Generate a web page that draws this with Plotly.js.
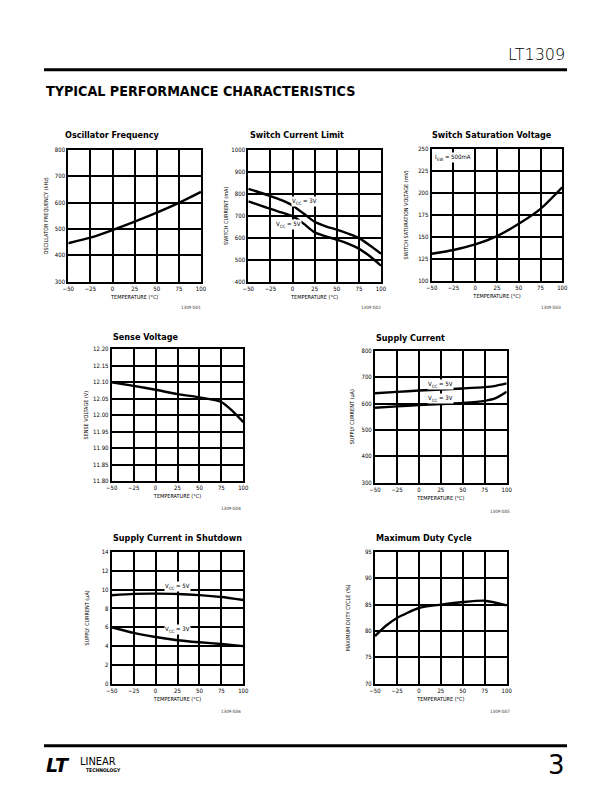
<!DOCTYPE html>
<html>
<head>
<meta charset="utf-8">
<script src="https://cdn.plot.ly/plotly-3.0.1.min.js"></script>
<style>html,body{margin:0;padding:0;background:#fff;}#chart{width:612px;height:792px;}</style>
</head>
<body>
<div id="chart"></div>
<script>
// ---------- data ----------
const temps = [-50, -25, 0, 25, 50, 75, 100];
const oscFreq = [446, 467, 496, 528, 562, 599, 641];

const climTemps = [-50, -25, -12.5, 0, 12.5, 25, 37.5, 50, 62.5, 75, 87.5, 100];
const climVcc3 = [823, 790, 771, 747, 710, 672, 652, 637, 619, 599, 564, 527];
const climVcc5 = [766, 731, 715, 698, 664, 624, 606, 591, 573, 550, 515, 472];

const satVolt = [130.7, 135, 141.3, 150.8, 164.8, 181.8, 206.4];

const senseTemps = [-50, -25, 0, 25, 50, 75, 87.5, 100];
const senseVolt = [12.100, 12.089, 12.077, 12.064, 12.054, 12.040, 12.013, 11.979];

const supTemps = [-50, -25, 0, 25, 50, 75, 87.5, 100];
const supVcc5 = [639, 644, 649, 653, 657, 662, 667, 676];
const supVcc3 = [584, 589, 594, 598, 602, 610, 620, 644];

const shdnVcc5 = [9.40, 9.55, 9.57, 9.54, 9.42, 9.22, 8.90];
const shdnVcc3 = [6.00, 5.40, 4.96, 4.62, 4.40, 4.22, 4.00];

const dutyTemps = [-50, -37.5, -25, 0, 25, 50, 75, 100];
const dutyCycle = [79.05, 81.0, 82.47, 84.37, 85.0, 85.5, 85.76, 84.87];

const chartTitles = ["Oscillator Frequency", "Switch Current Limit", "Switch Saturation Voltage",
  "Sense Voltage", "Supply Current", "Supply Current in Shutdown", "Maximum Duty Cycle"];
const yTitles = ["OSCILLATOR FREQUENCY (kHz)", "SWITCH CURRENT (mA)", "SWITCH SATURATION VOLTAGE (mV)",
  "SENSE VOLTAGE (V)", "SUPPLY CURRENT (µA)", "SUPPLY CURRENT (µA)", "MAXIMUM DUTY CYCLE (%)"];
const xTitle = "TEMPERATURE (°C)";
const figCodes = ["1309 G01", "1309 G02", "1309 G03", "1309 G04", "1309 G05", "1309 G06", "1309 G07"];
const yRanges = [[300, 800], [400, 1000], [100, 250], [11.80, 12.20], [300, 800], [0, 14], [70, 95]];
const yDticks = [100, 100, 25, 0.05, 100, 2, 5];

// ---------- layout geometry (pixels) ----------
const W = 612, H = 792;
const boxes = [
  {l: 68.3, r: 201, t: 150, b: 281.7, tx: 63, ty: 135, ys: 6, code: [203, 308]},
  {l: 248.3, r: 381, t: 150, b: 281.5, tx: 248.3, ty: 135, ys: 2, code: [383, 308]},
  {l: 431.7, r: 562.3, t: 149, b: 280.7, tx: 430, ty: 135, ys: 9, code: [563, 308]},
  {l: 111.7, r: 243.3, t: 349.3, b: 481, tx: 111, ty: 337, ys: 4, code: [243, 508]},
  {l: 375, r: 506.7, t: 350.7, b: 482.7, tx: 374, ty: 338.3, ys: 7, code: [511.5, 511]},
  {l: 111.7, r: 243.3, t: 552, b: 683.7, tx: 111, ty: 538, ys: 12, code: [243, 711]},
  {l: 375, r: 506.7, t: 552, b: 683.7, tx: 374, ty: 538, ys: 14, code: [512, 711]}
];
const px = x => x / W;
const py = y => 1 - y / H;

const FONT = "'Liberation Sans Narrow', 'DejaVu Sans Condensed', 'Arial Narrow', sans-serif";
const BLACK = '#000';

const layout = {
  width: W, height: H,
  margin: {l: 0, r: 0, t: 0, b: 0},
  paper_bgcolor: '#fff', plot_bgcolor: '#fff',
  showlegend: false,
  font: {family: FONT, color: BLACK, size: 6},
  annotations: [], shapes: []
};

boxes.forEach((b, i) => {
  const n = i === 0 ? '' : String(i + 1);
  layout['xaxis' + n] = {
    domain: [px(b.l), px(b.r)],
    range: [-50, 100], tick0: -50, dtick: 25,
    showgrid: true, gridcolor: BLACK, gridwidth: 2,
    showline: true, linecolor: BLACK, linewidth: 2, mirror: true,
    zeroline: false, ticks: '', tickfont: {size: 6, family: FONT, color: BLACK},
    title: {text: xTitle, font: {size: 5.5, family: FONT, color: BLACK}, standoff: 4},
    anchor: 'y' + n, fixedrange: true
  };
  const ay = {
    domain: [py(b.b), py(b.t)],
    range: yRanges[i], tick0: yRanges[i][0], dtick: yDticks[i],
    showgrid: true, gridcolor: BLACK, gridwidth: 2,
    showline: true, linecolor: BLACK, linewidth: 2, mirror: true,
    zeroline: false, ticks: '', tickfont: {size: 6, family: FONT, color: BLACK},
    title: {text: yTitles[i], font: {size: 5.5, family: FONT, color: BLACK}, standoff: b.ys},
    anchor: 'x' + n, fixedrange: true
  };
  if (i === 3) ay.tickformat = '.2f';
  layout['yaxis' + n] = ay;

  layout.annotations.push({
    xref: 'paper', yref: 'paper', x: px(b.tx), y: py(b.ty),
    xanchor: 'left', yanchor: 'middle', showarrow: false,
    text: chartTitles[i], font: {size: 9, family: FONT, weight: 'bold', color: BLACK}
  });
  layout.annotations.push({
    xref: 'paper', yref: 'paper', x: px(b.code[0]), y: py(b.code[1]),
    xanchor: 'right', yanchor: 'middle', showarrow: false,
    text: figCodes[i], font: {size: 4.5, family: FONT, color: '#333'}
  });
});

// in-plot labels (subscript drawn with a baseline-shifted span)
const SUB = s => '<span style="font-size:4.5px;baseline-shift:-1.5px">' + s + '</span>';
const lab = (xa, ya, x, y, text) => ({
  xref: xa, yref: ya, x: x, y: y, xanchor: 'center', yanchor: 'middle', showarrow: false,
  text: text, font: {size: 6, family: FONT, color: BLACK}, bgcolor: '#fff', borderpad: 0
});
layout.annotations.push(lab('x2', 'y2', 14, 765, 'V' + SUB('CC') + ' = 3V'));
layout.annotations.push(lab('x2', 'y2', -4, 662, 'V' + SUB('CC') + ' = 5V'));
layout.annotations.push({xref: 'x3', yref: 'y3', x: -47, y: 240, xanchor: 'left', yanchor: 'middle',
  showarrow: false, text: 'I' + SUB('SW') + ' = 500mA', font: {size: 6, family: FONT, color: BLACK}, bgcolor: '#fff', borderpad: 0});
layout.annotations.push(lab('x5', 'y5', 25, 672, 'V' + SUB('CC') + ' = 5V'));
layout.annotations.push(lab('x5', 'y5', 25, 620, 'V' + SUB('CC') + ' = 3V'));
layout.annotations.push(lab('x6', 'y6', 25, 10.3, 'V' + SUB('CC') + ' = 5V'));
layout.annotations.push(lab('x6', 'y6', 25, 5.8, 'V' + SUB('CC') + ' = 3V'));

// page header / footer
layout.shapes.push({type: 'line', xref: 'paper', yref: 'paper', x0: px(44), x1: px(567), y0: py(69.7), y1: py(69.7), line: {color: BLACK, width: 3}});
layout.shapes.push({type: 'line', xref: 'paper', yref: 'paper', x0: px(44), x1: px(567), y0: py(745.7), y1: py(745.7), line: {color: BLACK, width: 3}});
layout.annotations.push({xref: 'paper', yref: 'paper', x: px(567), y: py(55), xanchor: 'right', yanchor: 'middle', showarrow: false,
  text: 'LT1309', font: {size: 16, family: "'DejaVu Sans', sans-serif", weight: 300, color: BLACK}});
layout.annotations.push({xref: 'paper', yref: 'paper', x: px(44), y: py(91.5), xanchor: 'left', yanchor: 'middle', showarrow: false,
  text: 'TYPICAL PERFORMANCE CHARACTERISTICS', font: {size: 14.2, family: FONT, weight: 'bold', color: BLACK}});
layout.annotations.push({xref: 'paper', yref: 'paper', x: px(567), y: py(765), xanchor: 'right', yanchor: 'middle', showarrow: false,
  text: '3', font: {size: 26, family: "'DejaVu Sans', sans-serif", color: BLACK}});
layout.annotations.push({xref: 'paper', yref: 'paper', x: px(44), y: py(765), xanchor: 'left', yanchor: 'middle', showarrow: false,
  text: 'LT', font: {size: 19, family: "'DejaVu Sans', sans-serif", color: BLACK, weight: 'bold', style: 'italic'}});
layout.annotations.push({xref: 'paper', yref: 'paper', x: px(78), y: py(761), xanchor: 'left', yanchor: 'middle', showarrow: false,
  text: 'LINEAR', font: {size: 11, family: FONT, color: BLACK}});
layout.annotations.push({xref: 'paper', yref: 'paper', x: px(84), y: py(770), xanchor: 'left', yanchor: 'middle', showarrow: false,
  text: 'TECHNOLOGY', font: {size: 5, family: FONT, color: BLACK, weight: 'bold'}});

const line = {color: BLACK, width: 2.4, shape: 'spline', smoothing: 0.6};
const tr = (x, y, n) => ({x: x, y: y, xaxis: 'x' + n, yaxis: 'y' + n, mode: 'lines', line: line, hoverinfo: 'skip'});
const data = [
  tr(temps, oscFreq, ''),
  tr(climTemps, climVcc3, '2'),
  tr(climTemps, climVcc5, '2'),
  tr(temps, satVolt, '3'),
  tr(senseTemps, senseVolt, '4'),
  tr(supTemps, supVcc5, '5'),
  tr(supTemps, supVcc3, '5'),
  tr(temps, shdnVcc5, '6'),
  tr(temps, shdnVcc3, '6'),
  tr(dutyTemps, dutyCycle, '7')
];

Plotly.newPlot('chart', data, layout, {staticPlot: true, displayModeBar: false});
</script>
</body>
</html>
